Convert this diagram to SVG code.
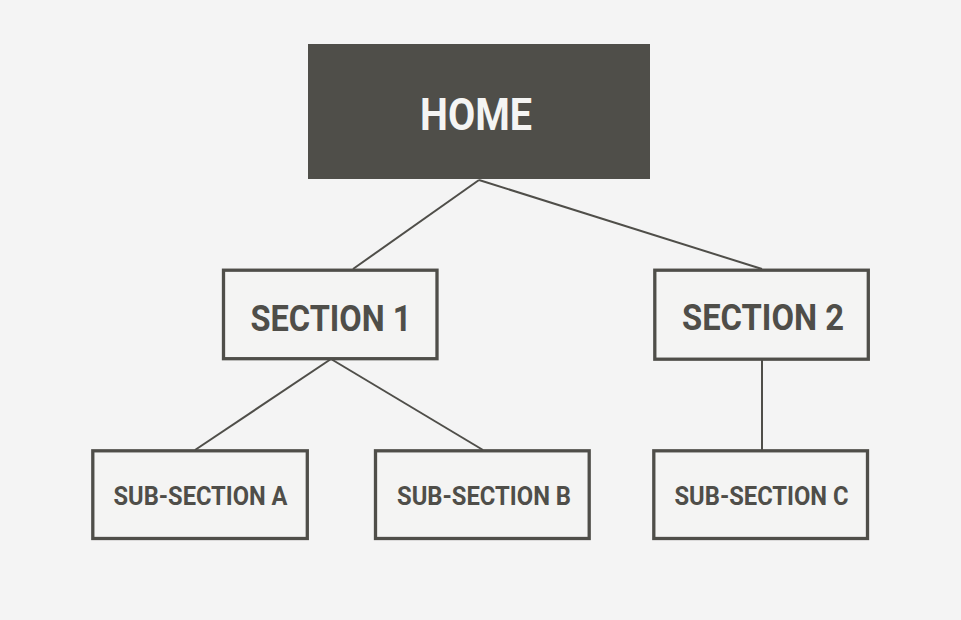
<svg xmlns="http://www.w3.org/2000/svg" width="961" height="620" viewBox="0 0 961 620">
<style>
.box{fill:#f4f4f3;stroke:#4f4e49;stroke-width:3.3}
.lbl{font-family:Roboto,"Liberation Sans",sans-serif;font-weight:bold;fill:#4f4e49;text-anchor:middle}
.edge{stroke:#4f4e49;stroke-width:2;fill:none}
</style>
<rect width="961" height="620" fill="#f4f4f4"/>
<g id="connectors">
<line class="edge" x1="479" y1="180" x2="353" y2="269"/>
<line class="edge" x1="479" y1="180" x2="762" y2="269"/>
<line class="edge" x1="331" y1="359" x2="195" y2="450"/>
<line class="edge" x1="331" y1="359" x2="483" y2="450"/>
<line class="edge" x1="762" y1="360" x2="762" y2="450"/>
</g>
<g id="home">
<rect x="308" y="44" width="342" height="135" fill="#4f4e49"/>
<text class="lbl" x="476" y="130" font-size="45" style="fill:#f4f4f3" textLength="112" lengthAdjust="spacingAndGlyphs">HOME</text>
</g>
<g id="section1">
<rect class="box" x="223.5" y="270.2" width="213.5" height="88.5"/>
<text class="lbl" x="331" y="330.5" font-size="37" textLength="161" lengthAdjust="spacingAndGlyphs">SECTION 1</text>
</g>
<g id="section2">
<rect class="box" x="654.8" y="270.2" width="213.5" height="89"/>
<text class="lbl" x="763" y="330" font-size="37" textLength="162" lengthAdjust="spacingAndGlyphs">SECTION 2</text>
</g>
<g id="subA">
<rect class="box" x="92.8" y="450.8" width="214.5" height="87.7"/>
<text class="lbl" x="200.5" y="504.5" font-size="25" textLength="174" lengthAdjust="spacingAndGlyphs">SUB-SECTION A</text>
</g>
<g id="subB">
<rect class="box" x="375.5" y="450.8" width="213.7" height="87.7"/>
<text class="lbl" x="484" y="504.5" font-size="25" textLength="174" lengthAdjust="spacingAndGlyphs">SUB-SECTION B</text>
</g>
<g id="subC">
<rect class="box" x="653.8" y="450.8" width="213.7" height="87.7"/>
<text class="lbl" x="761.5" y="504.5" font-size="25" textLength="174" lengthAdjust="spacingAndGlyphs">SUB-SECTION C</text>
</g>
</svg>
